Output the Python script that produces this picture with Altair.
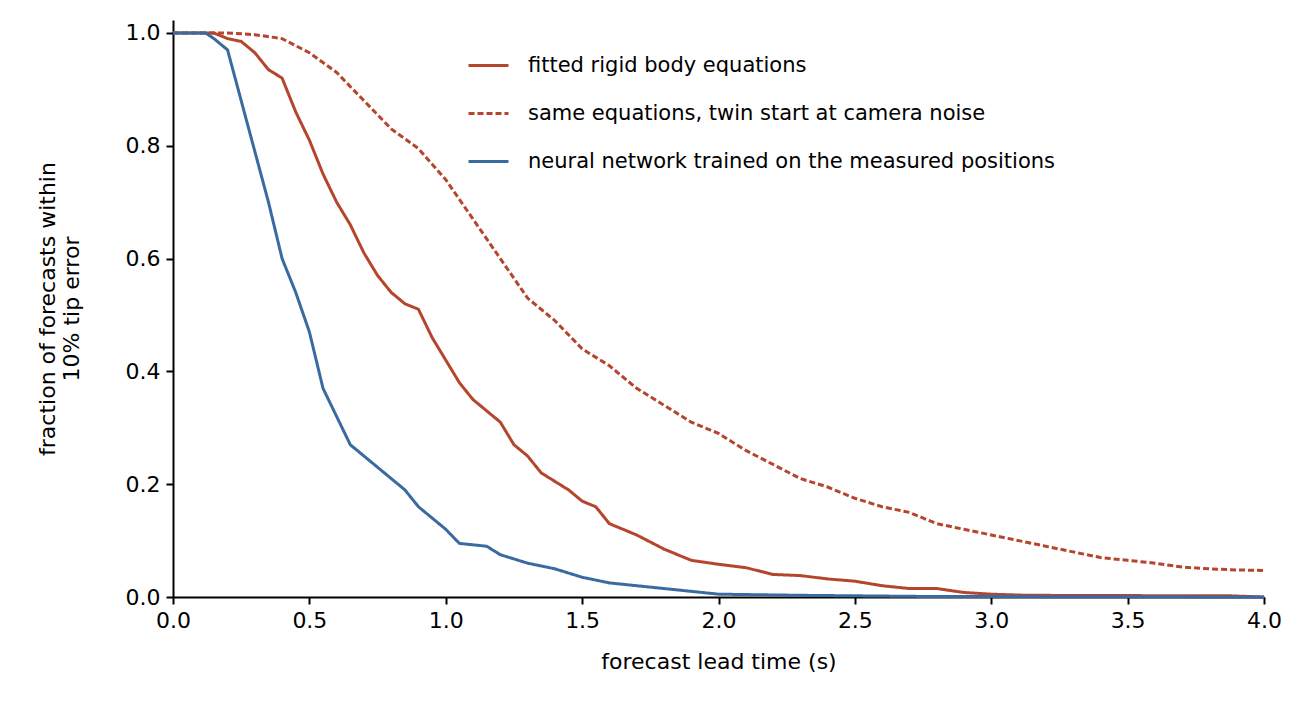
import altair as alt
import pandas as pd

rigid_t = [0, 0.15, 0.2, 0.25, 0.3, 0.35, 0.4, 0.45, 0.5, 0.55, 0.6, 0.65, 0.7, 0.75, 0.8, 0.85, 0.9, 0.95,
           1.0, 1.05, 1.1, 1.15, 1.2, 1.25, 1.3, 1.35, 1.4, 1.45, 1.5, 1.55, 1.6, 1.7, 1.8, 1.9, 2.0, 2.1,
           2.2, 2.3, 2.4, 2.5, 2.6, 2.7, 2.8, 2.9, 3.0, 3.13, 3.88, 4.0]
rigid_v = [1, 1.0, 0.99, 0.985, 0.965, 0.935, 0.92, 0.86, 0.81, 0.75, 0.70, 0.66, 0.61, 0.57, 0.54, 0.52,
           0.51, 0.46, 0.42, 0.38, 0.35, 0.33, 0.31, 0.27, 0.25, 0.22, 0.205, 0.19, 0.17, 0.16, 0.13, 0.11,
           0.085, 0.065, 0.058, 0.052, 0.04, 0.038, 0.032, 0.028, 0.02, 0.015, 0.015, 0.008, 0.005, 0.003,
           0.002, 0.0]

twin_t = [0, 0.2, 0.3, 0.4, 0.5, 0.6, 0.7, 0.8, 0.9, 1.0, 1.1, 1.2, 1.3, 1.4, 1.5, 1.6, 1.7, 1.8, 1.9,
          2.0, 2.1, 2.2, 2.3, 2.4, 2.5, 2.6, 2.7, 2.8, 2.9, 3.0, 3.1, 3.2, 3.3, 3.4, 3.5, 3.6, 3.7, 3.8, 3.9, 4.0]
twin_v = [1, 1, 0.997, 0.99, 0.965, 0.93, 0.88, 0.83, 0.795, 0.74, 0.67, 0.6, 0.53, 0.49, 0.44, 0.41, 0.37,
          0.34, 0.31, 0.29, 0.26, 0.235, 0.21, 0.195, 0.175, 0.16, 0.15, 0.13, 0.12, 0.11, 0.10, 0.09, 0.08,
          0.07, 0.065, 0.06, 0.053, 0.05, 0.048, 0.047]

nn_t = [0, 0.12, 0.15, 0.2, 0.25, 0.3, 0.35, 0.4, 0.45, 0.5, 0.55, 0.6, 0.65, 0.7, 0.75, 0.8, 0.85, 0.9,
        0.95, 1.0, 1.05, 1.15, 1.2, 1.3, 1.4, 1.5, 1.6, 1.7, 1.8, 1.9, 2.0, 2.3, 2.75, 4.0]
nn_v = [1, 1, 0.99, 0.97, 0.88, 0.79, 0.70, 0.60, 0.54, 0.47, 0.37, 0.32, 0.27, 0.25, 0.23, 0.21, 0.19, 0.16,
        0.14, 0.12, 0.095, 0.09, 0.075, 0.06, 0.05, 0.035, 0.025, 0.02, 0.015, 0.01, 0.005, 0.003, 0.001, 0.0]

names = ["fitted rigid body equations",
         "same equations, twin start at camera noise",
         "neural network trained on the measured positions"]

rows = []
for name, ts, vs in zip(names, [rigid_t, twin_t, nn_t], [rigid_v, twin_v, nn_v]):
    for t, v in zip(ts, vs):
        rows.append({"t": t, "v": v, "series": name})
df = pd.DataFrame(rows)

chart = alt.Chart(df).mark_line(strokeWidth=3).encode(
    x=alt.X("t:Q", title="forecast lead time (s)",
            scale=alt.Scale(domain=[0, 4], nice=False),
            axis=alt.Axis(values=[0, 0.5, 1, 1.5, 2, 2.5, 3, 3.5, 4], format=".1f", titlePadding=20)),
    y=alt.Y("v:Q", title=["fraction of forecasts within", "10% tip error"],
            scale=alt.Scale(domain=[0, 1.023], nice=False),
            axis=alt.Axis(values=[0, 0.2, 0.4, 0.6, 0.8, 1.0], format=".1f", titlePadding=42)),
    color=alt.Color("series:N", sort=names,
                    scale=alt.Scale(domain=names, range=["#b5452d", "#b5452d", "#3a6aa0"]),
                    legend=alt.Legend(title=None, orient="none", legendX=294, legendY=24,
                                      symbolType="stroke", symbolSize=1600, symbolStrokeWidth=3,
                                      labelFontSize=21, rowPadding=16, labelLimit=0, labelOffset=18,
                                      labelFont="DejaVu Sans", labelColor="black")),
    strokeDash=alt.StrokeDash("series:N", sort=names,
                              scale=alt.Scale(domain=names, range=[[1, 0], [6, 3], [1, 0]]),
                              legend=None),
).properties(
    width=1091, height=577,
    autosize=alt.AutoSizeParams(type="none"),
    padding={"left": 165, "top": 12, "right": 30, "bottom": 100},
).configure_view(stroke=None).configure_axis(
    grid=False, domainColor="black", domainWidth=2, tickColor="black", tickWidth=2, tickSize=7,
    labelFontSize=22, titleFontSize=22, labelColor="black", titleColor="black", labelFlush=False,
    labelFont="DejaVu Sans", titleFont="DejaVu Sans", titleFontWeight="normal", labelPadding=6,
)

chart.save("out.html", embed_options={"renderer": "svg", "actions": False})
